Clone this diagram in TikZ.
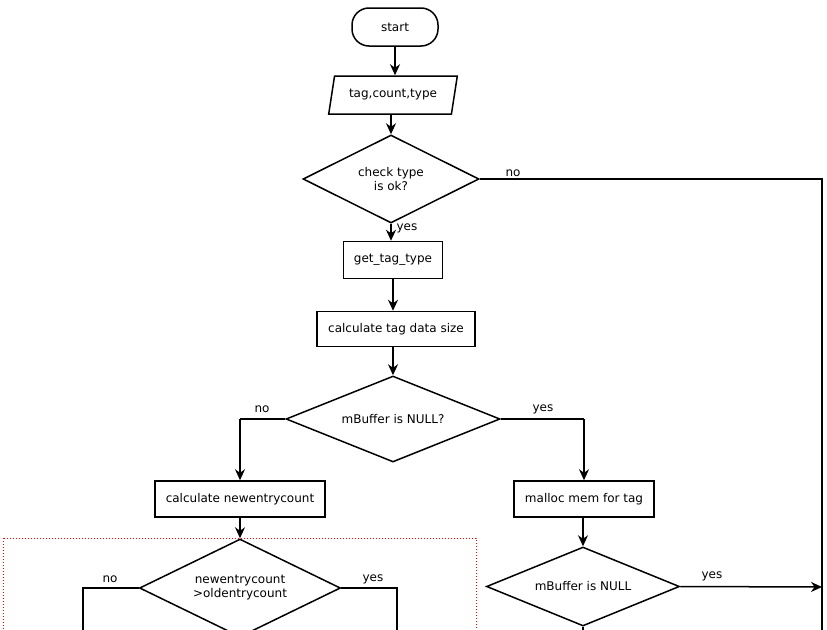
\documentclass[tikz,border=0pt]{standalone}
\usepackage{fontspec}
\setmainfont{DejaVu Sans}
\usetikzlibrary{shapes.geometric,arrows.meta}
\begin{document}
\begin{tikzpicture}[x=1pt,y=-1pt,
  font=\fontsize{12}{14}\selectfont,
  every node/.style={inner sep=0pt},
  ln/.style={line width=1.5pt},
  arr/.style={ln,-{Stealth[length=11pt,width=10pt]}},
  proc/.style={draw,line width=1.5pt,rectangle,minimum height=36pt},
  dec/.style={draw,line width=1.5pt,diamond,align=center},
  lbl/.style={font=\fontsize{12}{14}\selectfont}]
\useasboundingbox (0,0) rectangle (827,629);
\clip (0,0) rectangle (827,629);
% nodes
\node[draw,line width=1.5pt,rounded corners=17pt,minimum width=86pt,minimum height=38pt] (start) at (395,27) {start};
\node[draw,line width=1.5pt,trapezium,trapezium left angle=68,trapezium right angle=112,trapezium stretches=true,minimum width=129pt,minimum height=38pt] (io) at (393,95) {tag,count,type};
\node[dec,aspect=2,minimum width=176pt,minimum height=88pt] (chk) at (391,179) {check type\\is ok?};
\node[proc,minimum width=99pt,minimum height=37pt] (get) at (393,260) {get\_tag\_type};
\node[proc,minimum width=158pt,minimum height=35pt] (calc) at (396,329) {calculate tag data size};
\node[dec,aspect=2.49,minimum width=214pt,minimum height=86pt] (mb1) at (393,419) {mBuffer is NULL?};
\node[proc,minimum width=170pt] (newc) at (240,499) {calculate newentrycount};
\node[proc,minimum width=140pt] (mall) at (584,499) {malloc mem for tag};
\node[dec,aspect=2.05,minimum width=201pt,minimum height=98pt] (cmp) at (240,588) {newentrycount\\>oldentrycount};
\node[dec,aspect=2.44,minimum width=193pt,minimum height=79pt] (mb2) at (583,586.5) {mBuffer is NULL};
% coordinates
\coordinate (rtop) at (822,179);
\coordinate (rbot) at (822,650);
\coordinate (rhit) at (822,587);
\coordinate (nol) at (240,419);
\coordinate (yesr) at (584,419);
\coordinate (cnl) at (83,588);
\coordinate (cnlb) at (83,650);
\coordinate (cyr) at (397,588);
\coordinate (cyrb) at (397,650);
\coordinate (mb2b) at (583,650);
% red dotted box
\draw[red,dotted,line width=1pt] (3,538) rectangle (476,660);
% connectors
\draw[arr] (start.south) -- (start.south |- io.north);
\draw[arr] (io.south -| chk.north) -- (chk.north);
\draw[ln] (chk.east) -- (rtop) -- (rbot);
\draw[arr] (chk.south) -- (chk.south |- get.north);
\draw[arr] (get.south) -- (get.south |- calc.north);
\draw[arr] (get.south |- calc.south) -- (mb1.north);
\draw[ln] (mb1.west) -- (nol);
\draw[arr] (nol) -- (newc.north);
\draw[ln] (mb1.east) -- (yesr);
\draw[arr] (yesr) -- (mall.north);
\draw[arr] (newc.south) -- (cmp.north);
\draw[arr] (mall.south -| mb2.north) -- (mb2.north);
\draw[ln] (cmp.west) -- (cnl) -- (cnlb);
\draw[ln] (cmp.east) -- (cyr) -- (cyrb);
\draw[arr] (mb2.east) -- (rhit);
\draw[ln] (mb2.south) -- (mb2b);
% labels
\node[lbl] (l1) at (513,173) {no};
\node[lbl] (l2) at (407,228) {yes};
\node[lbl] (l3) at (262,409) {no};
\node[lbl] (l4) at (543,409) {yes};
\node[lbl] (l5) at (110,579) {no};
\node[lbl] (l6) at (373,579) {yes};
\node[lbl] (l7) at (712,576) {yes};
\end{tikzpicture}
\end{document}
